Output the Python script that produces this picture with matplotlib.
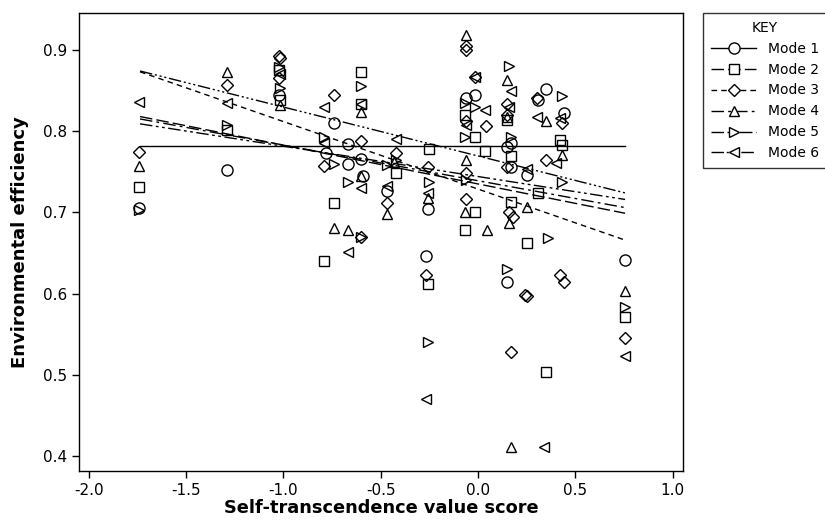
import matplotlib
matplotlib.use("Agg")
import matplotlib.pyplot as plt
from matplotlib.lines import Line2D

plt.rcParams['font.family'] = ['DejaVu Sans']
plt.rcParams['axes.unicode_minus'] = False

modes = ["Mode 1", "Mode 2", "Mode 3", "Mode 4", "Mode 5", "Mode 6"]

m1_x = [-1.74, -1.29, -1.025, -0.74, -0.78, -0.67, -0.67, -0.60, -0.59, -0.47, -0.26, -0.27,
        -0.06, -0.015, 0.15, 0.17, 0.17, 0.25, 0.15, 0.31, 0.35, 0.44, 0.755]
m1_y = [0.705, 0.752, 0.845, 0.810, 0.773, 0.784, 0.760, 0.766, 0.745, 0.727, 0.704, 0.647,
        0.841, 0.845, 0.781, 0.785, 0.756, 0.746, 0.615, 0.838, 0.852, 0.822, 0.641]

m2_x = [-1.74, -1.29, -1.025, -1.02, -0.79, -0.74, -0.60, -0.60, -0.42, -0.25, -0.26, -0.07,
        -0.015, 0.035, -0.015, -0.065, 0.15, 0.17, 0.17, 0.25, 0.35, 0.31, 0.42, 0.43, 0.755]
m2_y = [0.731, 0.802, 0.875, 0.838, 0.640, 0.712, 0.873, 0.834, 0.748, 0.778, 0.612, 0.820,
        0.793, 0.775, 0.701, 0.678, 0.814, 0.769, 0.713, 0.662, 0.504, 0.724, 0.789, 0.783, 0.571]

m3_x = [-1.74, -1.29, -1.025, -1.02, -1.025, -0.74, -0.79, -0.60, -0.60, -0.47, -0.42, -0.26,
        -0.27, -0.06, -0.06, -0.015, -0.06, 0.04, -0.06, -0.06, 0.15, 0.15, 0.15, 0.16, 0.18,
        0.17, 0.24, 0.25, 0.30, 0.35, 0.42, 0.44, 0.43, 0.755]
m3_y = [0.774, 0.857, 0.893, 0.890, 0.866, 0.845, 0.757, 0.788, 0.670, 0.712, 0.773, 0.756,
        0.623, 0.905, 0.900, 0.867, 0.813, 0.806, 0.748, 0.716, 0.833, 0.820, 0.756, 0.701, 0.695,
        0.528, 0.598, 0.597, 0.841, 0.765, 0.623, 0.614, 0.810, 0.545]

m4_x = [-1.74, -1.29, -1.02, -0.74, -0.67, -0.60, -0.47, -0.43, -0.26, -0.06, -0.06, -0.065,
        0.045, 0.15, 0.15, 0.16, 0.25, 0.17, 0.35, 0.43, 0.755, -0.60]
m4_y = [0.757, 0.873, 0.832, 0.681, 0.679, 0.823, 0.698, 0.762, 0.718, 0.918, 0.765, 0.700,
        0.679, 0.863, 0.818, 0.687, 0.707, 0.412, 0.812, 0.771, 0.604, 0.745]

m5_x = [-1.74, -1.29, -1.025, -1.02, -0.79, -0.74, -0.67, -0.60, -0.60, -0.47, -0.42, -0.25,
        -0.26, -0.07, -0.015, -0.07, -0.06, 0.16, 0.17, 0.15, 0.36, 0.43, 0.43, 0.755]
m5_y = [0.703, 0.807, 0.879, 0.853, 0.793, 0.760, 0.737, 0.855, 0.670, 0.758, 0.764, 0.738,
        0.541, 0.835, 0.830, 0.793, 0.740, 0.880, 0.793, 0.631, 0.668, 0.843, 0.738, 0.584]

m6_x = [-1.74, -1.29, -1.02, -0.79, -0.79, -0.67, -0.60, -0.60, -0.42, -0.47, -0.26, -0.27,
        0.035, -0.06, -0.015, 0.17, 0.16, 0.25, 0.34, 0.30, 0.42, 0.40, 0.755]
m6_y = [0.836, 0.835, 0.870, 0.830, 0.786, 0.651, 0.834, 0.730, 0.790, 0.732, 0.724, 0.471,
        0.826, 0.808, 0.867, 0.849, 0.830, 0.754, 0.411, 0.818, 0.816, 0.761, 0.523]

# fitted regression lines: value at start / end of x range
fit_x = [-1.737, 0.755]
fit_start = [0.782, 0.818, 0.873, 0.815, 0.809, 0.874]
fit_end = [0.782, 0.699, 0.666, 0.706, 0.716, 0.724]

xs = [m1_x, m2_x, m3_x, m4_x, m5_x, m6_x]
ys = [m1_y, m2_y, m3_y, m4_y, m5_y, m6_y]

markers = ['o', 's', 'D', '^', '>', '<']
msizes = [8.0, 6.8, 6.0, 7.8, 7.8, 7.8]
styles = ['-', (0, (9, 3)), (0, (4, 3)), (0, (9, 3, 2, 3)), (0, (9, 2.5, 2, 2.5, 2, 2.5)),
          (0, (9, 2, 1.5, 2, 1.5, 2, 1.5, 2))]

fig = plt.figure(figsize=(8.25, 5.27), dpi=100)
ax = fig.add_axes([0.0961, 0.1063, 0.828 - 0.0961, 0.9748 - 0.1063])

for i in range(6):
    ax.plot(xs[i], ys[i], linestyle='none', marker=markers[i], ms=msizes[i],
            mfc='none', mec='black', mew=1.0)
    ax.plot(fit_x, [fit_start[i], fit_end[i]], color='black', lw=1.0, linestyle=styles[i])

ax.set_xlim(-2.049, 1.053)
ax.set_ylim(0.382, 0.945)
ax.set_xticks([-2.0, -1.5, -1.0, -0.5, 0.0, 0.5, 1.0])
ax.set_yticks([0.4, 0.5, 0.6, 0.7, 0.8, 0.9])
ax.xaxis.set_major_formatter(matplotlib.ticker.FormatStrFormatter('%.1f'))
ax.yaxis.set_major_formatter(matplotlib.ticker.FormatStrFormatter('%.1f'))
ax.tick_params(axis='both', direction='out', length=5, width=1, labelsize=11, color='black')
for s in ax.spines.values():
    s.set_linewidth(1.0)
    s.set_color('black')

ax.set_xlabel('Self-transcendence value score', fontsize=12.8, fontweight='bold', labelpad=1)
ax.set_ylabel('Environmental efficiency', fontsize=13, fontweight='bold', labelpad=10)

handles = [Line2D([], [], color='black', lw=1.0, linestyle=styles[i], marker=markers[i],
                  ms=msizes[i], mfc='white', mec='black', mew=1.0) for i in range(6)]
leg = fig.legend(handles, modes, title='KEY', loc='upper left',
                 bbox_to_anchor=(703 / 825, 1 - 13 / 527), frameon=True, fancybox=False,
                 edgecolor='black', fontsize=10, title_fontsize=10, handlelength=3.3,
                 borderpad=0.55, labelspacing=0.5, handletextpad=0.8, borderaxespad=0)
leg.get_frame().set_linewidth(1.0)

fig.savefig('out.png', dpi=100)
